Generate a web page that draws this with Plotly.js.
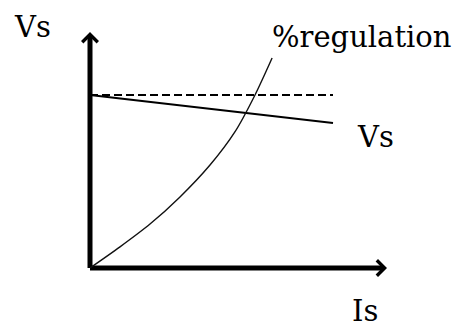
<!DOCTYPE html>
<html>
<head>
<meta charset="utf-8">
<script src="https://cdn.plot.ly/plotly-3.0.1.min.js"></script>
<style>html,body{margin:0;padding:0;background:#fff;}#chart{width:458px;height:332px;}</style>
</head>
<body>
<div id="chart"></div>
<script>
// Axis extents (data units)
var axisX = [0, 9.9];
var axisY = [0, 9.83];

// No-load voltage (dashed) and terminal voltage Vs (solid)
var loadX = [0, 8.1];
var noLoadV = [7.21, 7.21];
var vsV = [7.21, 6.04];

// %regulation curve
var regX = [0, 1.0, 2.0, 3.0, 4.0, 4.83, 5.5, 6.07];
var regY = [0, 0.88, 1.83, 2.96, 4.29, 5.67, 7.21, 8.75];

// Labels
var labelText = ["Vs", "%regulation", "Vs", "Is"];
var labelX = [-2.6, 6.0, 8.83, 8.67];
var labelY = [10.04, 9.62, 5.45, -1.8];

var font = {family: "DejaVu Serif, Liberation Serif, serif", size: 29, color: "#000"};

var traces = [
  {x: [axisX[0], axisX[0]], y: [axisY[0], axisY[1] - 0.2], mode: "lines", line: {color: "#000", width: 5}, hoverinfo: "skip"},
  {x: [axisX[0], axisX[1] - 0.2], y: [axisY[0], axisY[0]], mode: "lines", line: {color: "#000", width: 5}, hoverinfo: "skip"},
  {x: loadX, y: noLoadV, mode: "lines", line: {color: "#000", width: 2, dash: "8px,4px"}, hoverinfo: "skip"},
  {x: loadX, y: vsV, mode: "lines", line: {color: "#000", width: 2}, hoverinfo: "skip"},
  {x: regX, y: regY, mode: "lines", line: {color: "#111", width: 1.4, shape: "spline", smoothing: 0.8}, hoverinfo: "skip"}
];

var annotations = [];
for (var i = 0; i < labelText.length; i++) {
  annotations.push({x: labelX[i], y: labelY[i], xref: "x", yref: "y", text: labelText[i],
    showarrow: false, xanchor: "left", yanchor: "middle", font: font});
}
// Arrow heads on axes
annotations.push({x: axisX[0], y: axisY[1], ax: axisX[0], ay: axisY[1] - 1.5, xref: "x", yref: "y",
  axref: "x", ayref: "y", showarrow: true, arrowhead: 4, arrowwidth: 2, arrowsize: 1.5, arrowcolor: "#000", text: ""});
annotations.push({x: axisX[1], y: axisY[0], ax: axisX[1] - 1.5, ay: axisY[0], xref: "x", yref: "y",
  axref: "x", ayref: "y", showarrow: true, arrowhead: 4, arrowwidth: 2, arrowsize: 1.5, arrowcolor: "#000", text: ""});

var hidden = {showgrid: false, zeroline: false, showticklabels: false, showline: false, ticks: "", fixedrange: true};

var layout = {
  width: 458, height: 332,
  margin: {l: 0, r: 0, t: 0, b: 0, pad: 0},
  paper_bgcolor: "#fff", plot_bgcolor: "#fff",
  showlegend: false,
  xaxis: Object.assign({range: [-3, 12.2667]}, hidden),
  yaxis: Object.assign({range: [-2.6667, 11.1667]}, hidden),
  annotations: annotations
};

Plotly.newPlot("chart", traces, layout, {displayModeBar: false, staticPlot: true});
</script>
</body>
</html>
